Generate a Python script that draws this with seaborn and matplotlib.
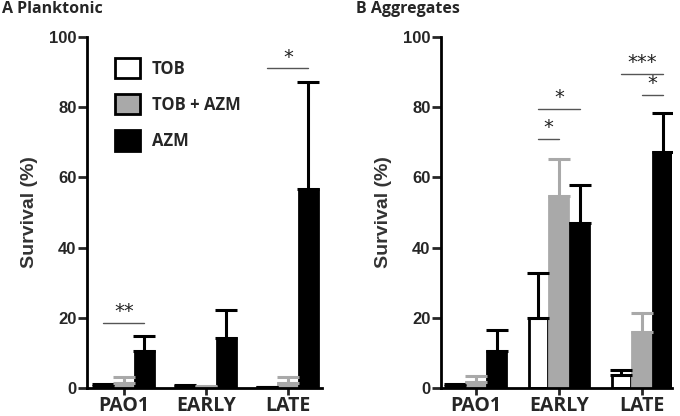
import numpy as np
import pandas as pd
import matplotlib
matplotlib.use('Agg')
import matplotlib.pyplot as plt
import seaborn as sns
from matplotlib.patches import Patch

sns.set_style("ticks")
plt.rcParams['font.family'] = ['Liberation Sans', 'DejaVu Sans']

# ── data ────────────────────────────────────────────────
groups = ['PAO1', 'EARLY', 'LATE']
treatments = ['TOB', 'TOB + AZM', 'AZM']

plank_tob = [0.7, 0.7, 0.2]
plank_tob_sd = [0.3, 0.2, 0.1]
plank_combo = [1.5, 0.3, 1.5]
plank_combo_sd = [1.6, 0.2, 1.5]
plank_azm = [10.4, 14.3, 56.8]
plank_azm_sd = [4.3, 8.0, 30.4]

agg_tob = [0.7, 19.9, 3.6]
agg_tob_sd = [0.3, 12.9, 1.6]
agg_combo = [1.8, 54.6, 15.9]
agg_combo_sd = [1.5, 10.5, 5.5]
agg_azm = [10.5, 47.0, 67.2]
agg_azm_sd = [6.0, 10.8, 11.1]

# significance: (group index, from treatment, to treatment, y level, stars)
plank_sig = [(0, 0, 2, 18.5, '**'), (2, 0, 2, 91.0, '*')]
agg_sig = [(1, 0, 1, 70.9, '*'), (1, 0, 2, 79.5, '*'),
           (2, 0, 2, 89.5, '***'), (2, 1, 2, 83.5, '*')]

face = ['white', '#a9a9a9', 'black']
edge = ['black', '#a9a9a9', 'black']
SANS_BOLD = ['Open Sans', 'DejaVu Sans']

fig = plt.figure(figsize=(6.8, 4.16), dpi=100)
ax_a = fig.add_axes([0.128, 0.0673, 0.346, 0.844])
ax_b = fig.add_axes([0.6485, 0.0673, 0.3395, 0.844])


def panel(ax, means, sds, sigs, xlim, title):
    df = pd.DataFrame({
        'group': groups * 3,
        'treat': np.repeat(treatments, 3),
        'val': np.concatenate(means),
    })
    sns.barplot(data=df, x='group', y='val', hue='treat', order=groups,
                hue_order=treatments, palette=face, width=0.75, gap=0.08,
                errorbar=None, legend=False, ax=ax, saturation=1)
    centers = []
    bars = list(ax.containers)
    for k, cont in enumerate(bars):
        xs = [p.get_x() + p.get_width() / 2 for p in cont.patches]
        hs = [p.get_height() for p in cont.patches]
        centers.append(xs)
        for p in cont.patches:
            p.set_edgecolor(edge[k])
            p.set_linewidth(2)
        ax.errorbar(xs, hs, yerr=[np.zeros(3), sds[k]], fmt='none',
                    ecolor=edge[k], elinewidth=2.2, capsize=8, capthick=2.2,
                    zorder=1)
    for g, i, j, y, s in sigs:
        x0, x1 = centers[i][g], centers[j][g]
        ax.plot([x0, x1], [y, y], color='#555555', lw=1)
        ax.text((x0 + x1) / 2, y + 0.5, s, ha='center', va='bottom',
                fontsize=14, color='#222222', family='DejaVu Sans')
    ax.set_ylim(0, 100)
    ax.set_xlim(*xlim)
    ax.set_yticks([0, 20, 40, 60, 80, 100])
    ax.set_xlabel('')
    ax.set_ylabel('Survival (%)', fontsize=14, fontweight='bold',
                  color='#333333', labelpad=8)
    for lab in ax.get_yticklabels():
        lab.set_fontweight('bold')
        lab.set_fontsize(12)
    ax.set_xticks(range(3))
    ax.set_xticklabels(groups, fontsize=14, fontweight='bold',
                       family=SANS_BOLD)
    ax.tick_params(axis='y', width=2, length=6.5, pad=1)
    ax.tick_params(axis='x', width=2, length=5, pad=1)
    for side in ['left', 'bottom']:
        ax.spines[side].set_linewidth(2)
        ax.spines[side].set_color('black')
    sns.despine(ax=ax)
    fig.text(ax.get_position().x0 - 0.125, 0.998, title, ha='left', va='top',
             fontsize=11.5, fontweight='bold', family=SANS_BOLD)


panel(ax_a, [plank_tob, plank_combo, plank_azm],
      [plank_tob_sd, plank_combo_sd, plank_azm_sd], plank_sig,
      (-0.45, 2.42), 'A Planktonic')
panel(ax_b, [agg_tob, agg_combo, agg_azm],
      [agg_tob_sd, agg_combo_sd, agg_azm_sd], agg_sig,
      (-0.42, 2.36), 'B Aggregates')

handles = [Patch(facecolor=face[k], edgecolor='black', linewidth=2)
           for k in range(3)]
leg = ax_a.legend(handles, treatments, loc='upper left',
                  bbox_to_anchor=(0.12, 0.94), borderaxespad=0, borderpad=0,
                  frameon=False, handlelength=1.5, handleheight=1.5,
                  labelspacing=0.95, handletextpad=0.7,
                  prop={'family': SANS_BOLD, 'weight': 'bold', 'size': 12})

fig.savefig('out.png', dpi=100)
